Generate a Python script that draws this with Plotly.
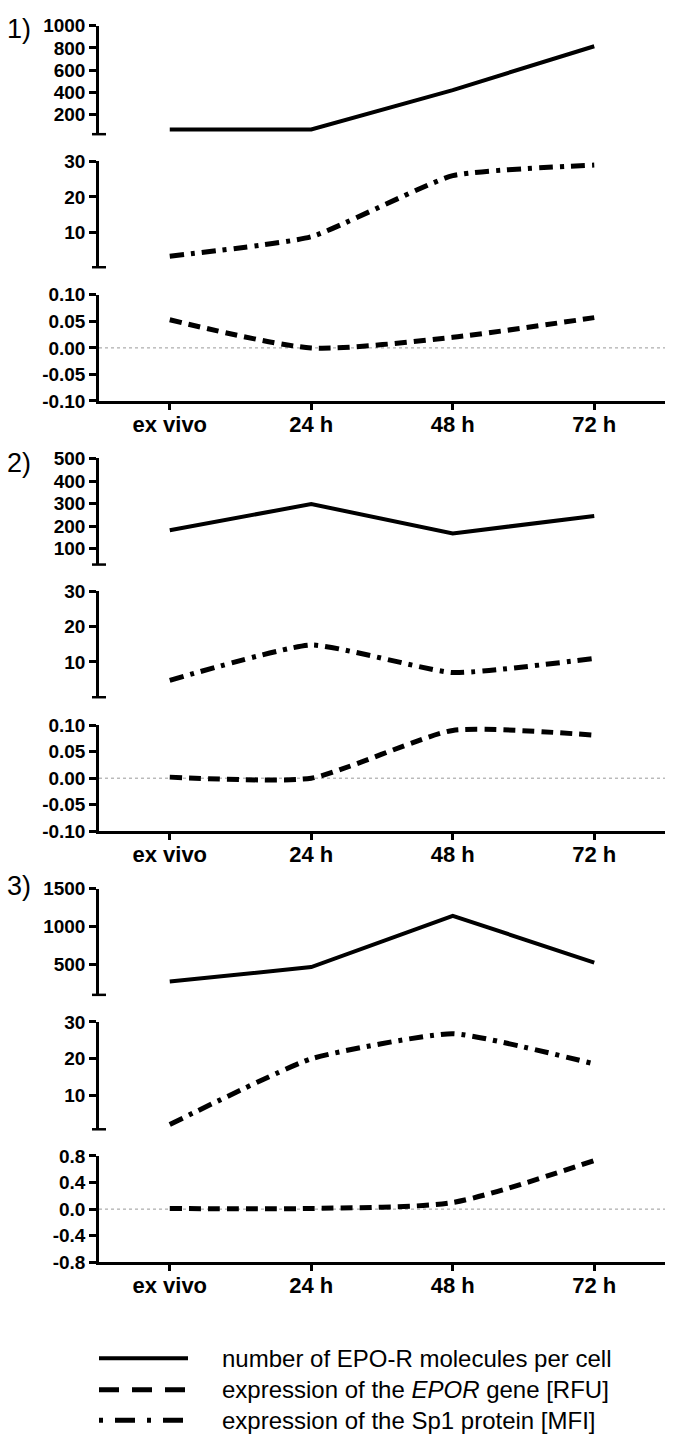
import plotly.graph_objects as go

W, H = 677, 1453

categories = ["ex vivo", "24 h", "48 h", "72 h"]

# Panel 1
p1_receptors = [65, 65, 420, 815]
p1_sp1 = [3.3, 8.8, 26.0, 29.0]
p1_epor = [0.053, 0.0, 0.02, 0.057]
# Panel 2
p2_receptors = [182, 298, 168, 245]
p2_sp1 = [4.8, 14.8, 7.0, 11.0]
p2_epor = [0.002, 0.0, 0.09, 0.081]
# Panel 3
p3_receptors = [280, 470, 1145, 530]
p3_sp1 = [2.2, 20.0, 26.8, 18.6]
p3_epor = [0.01, 0.01, 0.10, 0.73]

# tick labels
t_1000 = [200, 400, 600, 800, 1000]
t_500 = [100, 200, 300, 400, 500]
t_1500 = [500, 1000, 1500]
t_30 = [10, 20, 30]
t_small = [-0.10, -0.05, 0.0, 0.05, 0.10]
t_small_txt = ["-0.10", "-0.05", "0.00", "0.05", "0.10"]
t_big = [-0.8, -0.4, 0.0, 0.4, 0.8]
t_big_txt = ["-0.8", "-0.4", "0.0", "0.4", "0.8"]

legend_labels = [
    "number of EPO-R molecules per cell",
    "expression of the <i>EPOR</i> gene [RFU]",
    "expression of the Sp1 protein [MFI]",
]
panel_labels = ["1)", "2)", "3)"]

FONT = "Liberation Sans, Arial, sans-serif"
STY_SOLID = dict(color="black", width=4)
STY_DASH = dict(color="black", width=5, dash="12px,7px")
STY_DASHDOT = dict(color="black", width=5, dash="14px,7px,4px,7px")

# subplot specs: (top_px, bottom_px, yrange, tickvals, ticktext, has_xaxis, values, style, smoothing)
subplots = [
    (16, 126, [22, 1000], t_1000, None, False, p1_receptors, STY_SOLID, 0),
    (153.7, 261, [0.2, 30], t_30, None, False, p1_sp1, STY_DASHDOT, 0.45),
    (289, 396.7, [-0.1, 0.1], t_small, t_small_txt, True, p1_epor, STY_DASH, 0.7),
    (455, 562.7, [30, 500], t_500, None, False, p2_receptors, STY_SOLID, 0),
    (590, 697.3, [0, 30], t_30, None, False, p2_sp1, STY_DASHDOT, 0.45),
    (725.6, 833.3, [-0.1, 0.1], t_small, t_small_txt, True, p2_epor, STY_DASH, 0.55),
    (891.7, 999.3, [105, 1500], t_1500, None, False, p3_receptors, STY_SOLID, 0),
    (1026.7, 1135.7, [0.9, 30], t_30, None, False, p3_sp1, STY_DASHDOT, 0.45),
    (1162.7, 1270.7, [-0.8, 0.8], t_big, t_big_txt, True, p3_epor, STY_DASH, 0.7),
]

X0, X1 = 99 / W, 665 / W

fig = go.Figure()
layout = dict(
    width=W, height=H,
    margin=dict(l=0, r=0, t=0, b=0),
    paper_bgcolor="white", plot_bgcolor="white",
    showlegend=False,
    font=dict(family=FONT, color="black"),
)
shapes = []
annotations = []

for i, (top, bot, yr, tv, tt, has_x, vals, sty, sm) in enumerate(subplots, start=1):
    xn = "x" if i == 1 else f"x{i}"
    yn = "y" if i == 1 else f"y{i}"
    xk = "xaxis" if i == 1 else f"xaxis{i}"
    yk = "yaxis" if i == 1 else f"yaxis{i}"
    if sm > 0:
        ln = dict(**sty, shape="spline", smoothing=sm)
    else:
        ln = dict(**sty, shape="linear")
    fig.add_trace(go.Scatter(
        x=categories, y=vals, mode="lines", line=ln,
        xaxis=xn, yaxis=yn, hoverinfo="skip",
    ))
    xa = dict(
        domain=[X0, X1], anchor=yn, type="category",
        categoryorder="array", categoryarray=categories,
        range=[-0.5, 3.5], showgrid=False, zeroline=False,
        fixedrange=True,
    )
    if has_x:
        xa.update(showline=True, linecolor="black", linewidth=2.5,
                  ticks="outside", ticklen=6, tickwidth=2.5, tickcolor="black",
                  ticklabelstandoff=-4,
                  tickfont=dict(family=FONT, size=22, color="black", weight="bold"))
    else:
        xa.update(visible=False)
    ya = dict(
        domain=[1 - bot / H, 1 - top / H], anchor=xn, range=yr,
        showgrid=False, zeroline=False, showline=True, linecolor="black",
        linewidth=2.5, ticks="outside", ticklen=7, tickwidth=2.5, tickcolor="black",
        tickmode="array", tickvals=tv,
        tickfont=dict(family=FONT, size=19, color="black", weight="bold"),
        fixedrange=True,
    )
    if tt is not None:
        ya["ticktext"] = tt
    layout[xk] = xa
    layout[yk] = ya
    if has_x:
        shapes.append(dict(type="line", xref=f"{xn} domain", x0=0, x1=1,
                           yref=yn, y0=0, y1=0,
                           line=dict(color="#999999", width=1, dash="dot"), layer="below"))
    else:
        yb = 1 - bot / H
        shapes.append(dict(type="line", xref="paper", yref="paper",
                           x0=92 / W, x1=106 / W, y0=yb, y1=yb,
                           line=dict(color="black", width=2.5)))

# panel labels
for lbl, ypx in zip(panel_labels, [19, 460, 889]):
    annotations.append(dict(text=lbl, xref="paper", yref="paper", x=5 / W, y=1 - ypx / H,
                            xanchor="left", yanchor="middle", showarrow=False,
                            font=dict(family=FONT, size=27, color="black")))

# legend
leg_dash = [None, "20px,13px", "4px,12px,20px,12px"]
for lbl, ypx, dsh in zip(legend_labels, [1368, 1400, 1431], leg_dash):
    ln = dict(color="black", width=5 if dsh else 4)
    if dsh:
        ln["dash"] = dsh
    shapes.append(dict(type="line", xref="paper", yref="paper",
                       x0=99 / W, x1=188 / W, y0=1 - ypx / H, y1=1 - ypx / H, line=ln))
    annotations.append(dict(text=lbl, xref="paper", yref="paper", x=220 / W, y=1 - ypx / H,
                            xanchor="left", yanchor="middle", showarrow=False,
                            font=dict(family=FONT, size=24, color="black")))

layout["shapes"] = shapes
layout["annotations"] = annotations
fig.update_layout(**layout)
fig.write_html("out.html", config={"displayModeBar": False},
               post_script="document.body.style.margin='0';document.body.style.overflow='hidden';")
